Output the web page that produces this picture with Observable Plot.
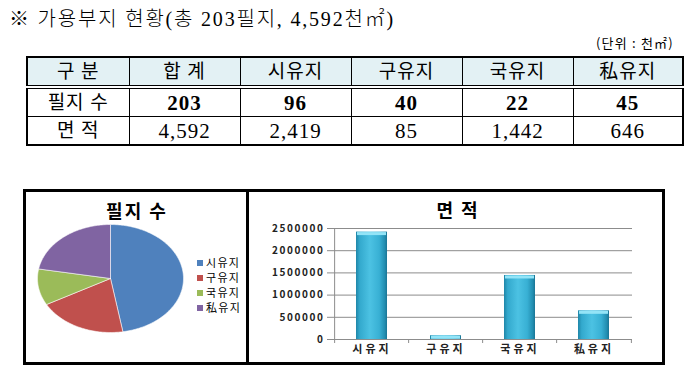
<!DOCTYPE html>
<html><head><meta charset="utf-8">
<script src="https://cdn.jsdelivr.net/npm/d3@7"></script>
<script src="https://cdn.jsdelivr.net/npm/@observablehq/plot@0.6"></script>
<style>
body{margin:0;background:#fff;width:697px;height:381px;position:relative;overflow:hidden;font-family:"Liberation Serif","Noto Sans CJK KR",serif;color:#000;}
#title{position:absolute;left:9px;top:7px;font-size:20px;letter-spacing:1.8px;white-space:nowrap;line-height:24px;font-weight:300;}
#unit{position:absolute;left:596px;top:35px;font-size:13px;letter-spacing:1.2px;white-space:nowrap;font-family:"Noto Sans CJK KR",sans-serif;line-height:16px;}
#tbl{position:absolute;left:26px;top:56px;border-collapse:collapse;border:2px solid #000;table-layout:fixed;}
#tbl td{border:1px solid #000;text-align:center;padding:0;font-size:19px;letter-spacing:1px;line-height:20px;overflow:hidden;white-space:nowrap;}
#tbl tr.h td{background:#e3f1f4;height:27px;border-bottom:4px double #000;}
#tbl tr.r td{height:27px;}
#tbl tr.r1 td.v{font-weight:bold;font-size:21px;}
#tbl tr.r2 td.v{font-size:21px;}
#box{position:absolute;left:23px;top:189px;width:642px;height:176px;border:3px solid #000;box-sizing:border-box;}
#divider{position:absolute;left:246px;top:189px;width:3px;height:176px;background:#000;}
.ctitle{position:absolute;font-family:"Noto Sans CJK KR",sans-serif;font-weight:bold;font-size:18px;letter-spacing:2px;line-height:20px;white-space:nowrap;transform:translateX(-50%);}
#legend{position:absolute;left:197px;top:255px;font-family:"Noto Sans CJK KR",sans-serif;font-size:11px;letter-spacing:1.3px;line-height:15px;}
#legend .it{display:flex;align-items:center;height:15px;}
#legend .sw{width:6px;height:6px;margin-right:3px;}
#pie{position:absolute;left:26px;top:192px;}
#bar{position:absolute;left:249px;top:192px;}
#bar svg g[aria-label="y-axis tick label"]{font-weight:bold;font-size:10px;letter-spacing:1.6px;fill:#222;}
#bar svg g[aria-label="x-axis tick label"]{font-size:11px;font-weight:bold;letter-spacing:3px;fill:#222;}
#bar svg g[aria-label="y-axis tick"]{stroke:#8c8c8c;}
</style></head>
<body>
<div id="title"></div>
<div id="unit">(단위 : 천㎡)</div>
<table id="tbl"></table>
<div id="box"></div>
<div id="divider"></div>
<div class="ctitle" style="left:137px;top:200px;">필지 수</div>
<div class="ctitle" style="left:458px;top:199px;">면 적</div>
<div id="legend"></div>
<div id="pie"></div>
<div id="bar"></div>
<script>
// ---- data ----
const categories = ["시유지", "구유지", "국유지", "私유지"];
const parcelCounts = [96, 40, 22, 45];          // 필지 수
const areaThousand = [2419, 85, 1442, 646];     // 면적 (천㎡)
const totalParcels = 203;
const totalArea = 4592;
const areaChartValues = [2419000, 85000, 1442000, 646000]; // bar chart values
const yTicks = [0, 500000, 1000000, 1500000, 2000000, 2500000];
const headerLabels = ["구 분", "합 계"];
const rowLabels = ["필지 수", "면 적"];
const pieColors = ["#4F81BD", "#C0504D", "#9BBB59", "#8064A2"];

const fmt = d3.format(",");

// ---- title ----
document.getElementById("title").textContent =
  `※ 가용부지 현황(총 ${totalParcels}필지, ${fmt(totalArea)}천㎡)`;

// ---- table ----
const tbl = d3.select("#tbl");
const colW = [102, 111, 111, 111, 111, 110];
const cg = tbl.append("colgroup");
colW.forEach(w => cg.append("col").style("width", w + "px"));
const hr = tbl.append("tr").attr("class", "h");
[...headerLabels, ...categories].forEach(t => hr.append("td").text(t));
const rows = [[totalParcels, ...parcelCounts], [totalArea, ...areaThousand]];
rows.forEach((vals, r) => {
  const tr = tbl.append("tr").attr("class", "r r" + (r + 1));
  tr.append("td").text(rowLabels[r]);
  vals.forEach(v => tr.append("td").attr("class", "v").text(fmt(v)));
});

// ---- legend ----
const lg = d3.select("#legend");
categories.forEach((c, i) => {
  const it = lg.append("div").attr("class", "it");
  it.append("div").attr("class", "sw").style("background", pieColors[i]);
  it.append("span").text(c);
});

// ---- pie (ellipse via unequal x/y scales) ----
const arcs = d3.pie().sort(null)(parcelCounts);
const pieMarks = arcs.map((a, i) => {
  const pts = [[0, 0]];
  const n = Math.max(4, Math.ceil((a.endAngle - a.startAngle) / 0.02));
  for (let k = 0; k <= n; k++) {
    const t = a.startAngle + (a.endAngle - a.startAngle) * k / n;
    pts.push([Math.sin(t), Math.cos(t)]);
  }
  pts.push([0, 0]);
  return Plot.line(pts, {x: d => d[0], y: d => d[1], fill: pieColors[i],
    stroke: "#ffffff", strokeWidth: 0.8, strokeOpacity: 0.7, curve: "linear"});
});
const pie = Plot.plot({
  width: 220, height: 170,
  marginLeft: 11, marginRight: 63, marginTop: 32, marginBottom: 30,
  style: {background: "transparent", overflow: "visible"},
  x: {domain: [-1, 1], axis: null},
  y: {domain: [-1, 1], axis: null},
  marks: pieMarks
});
document.getElementById("pie").appendChild(pie);

// ---- bar chart ----
const barData = categories.map((c, i) => ({cat: c, area: areaChartValues[i]}));
const W = 410, ML = 84, MR = 27, H = 170, MT = 36, MB = 23;
const step = (W - ML - MR) / categories.length;
const plotH = H - MT - MB;
const bar = Plot.plot({
  width: W, height: H,
  marginLeft: ML, marginRight: MR, marginTop: MT, marginBottom: MB,
  style: {background: "transparent", fontFamily: "'Noto Sans CJK KR', sans-serif", overflow: "visible"},
  x: {domain: categories, paddingInner: 0.58, paddingOuter: 0.29, tickSize: 0, tickPadding: 6, label: null},
  y: {domain: [0, 2500000], ticks: yTicks, tickFormat: d3.format("d"), tickSize: 6, tickPadding: 3, label: null},
  marks: [
    Plot.ruleY(yTicks, {stroke: "#8c8c8c", strokeWidth: 1}),
    Plot.ruleX([categories[0]], {dx: -step / 2, stroke: "#8c8c8c"}),
    Plot.ruleX(categories, {dx: -step / 2, stroke: "#8c8c8c", insetTop: plotH, insetBottom: -4}),
    Plot.ruleX([categories[categories.length - 1]], {dx: step / 2, stroke: "#8c8c8c", insetTop: plotH, insetBottom: -4}),
    Plot.barY(barData, {x: "cat", y: "area", fill: "url(#barGrad)"}),
    Plot.tickY(barData, {x: "cat", y: "area", stroke: "#93e4f7", strokeWidth: 3, dy: 1.5, insetLeft: 1, insetRight: 1})
  ]
});
d3.select(bar).insert("defs", ":first-child").html(`
  <linearGradient id="barGrad" x1="0" x2="1" y1="0" y2="0">
    <stop offset="0" stop-color="#1f86a8"/>
    <stop offset="0.12" stop-color="#33a9cd"/>
    <stop offset="0.45" stop-color="#4cc2e3"/>
    <stop offset="0.75" stop-color="#38b0d4"/>
    <stop offset="0.92" stop-color="#238fb2"/>
    <stop offset="1" stop-color="#1a7595"/>
  </linearGradient>`);
document.getElementById("bar").appendChild(bar);
</script>
</body></html>
